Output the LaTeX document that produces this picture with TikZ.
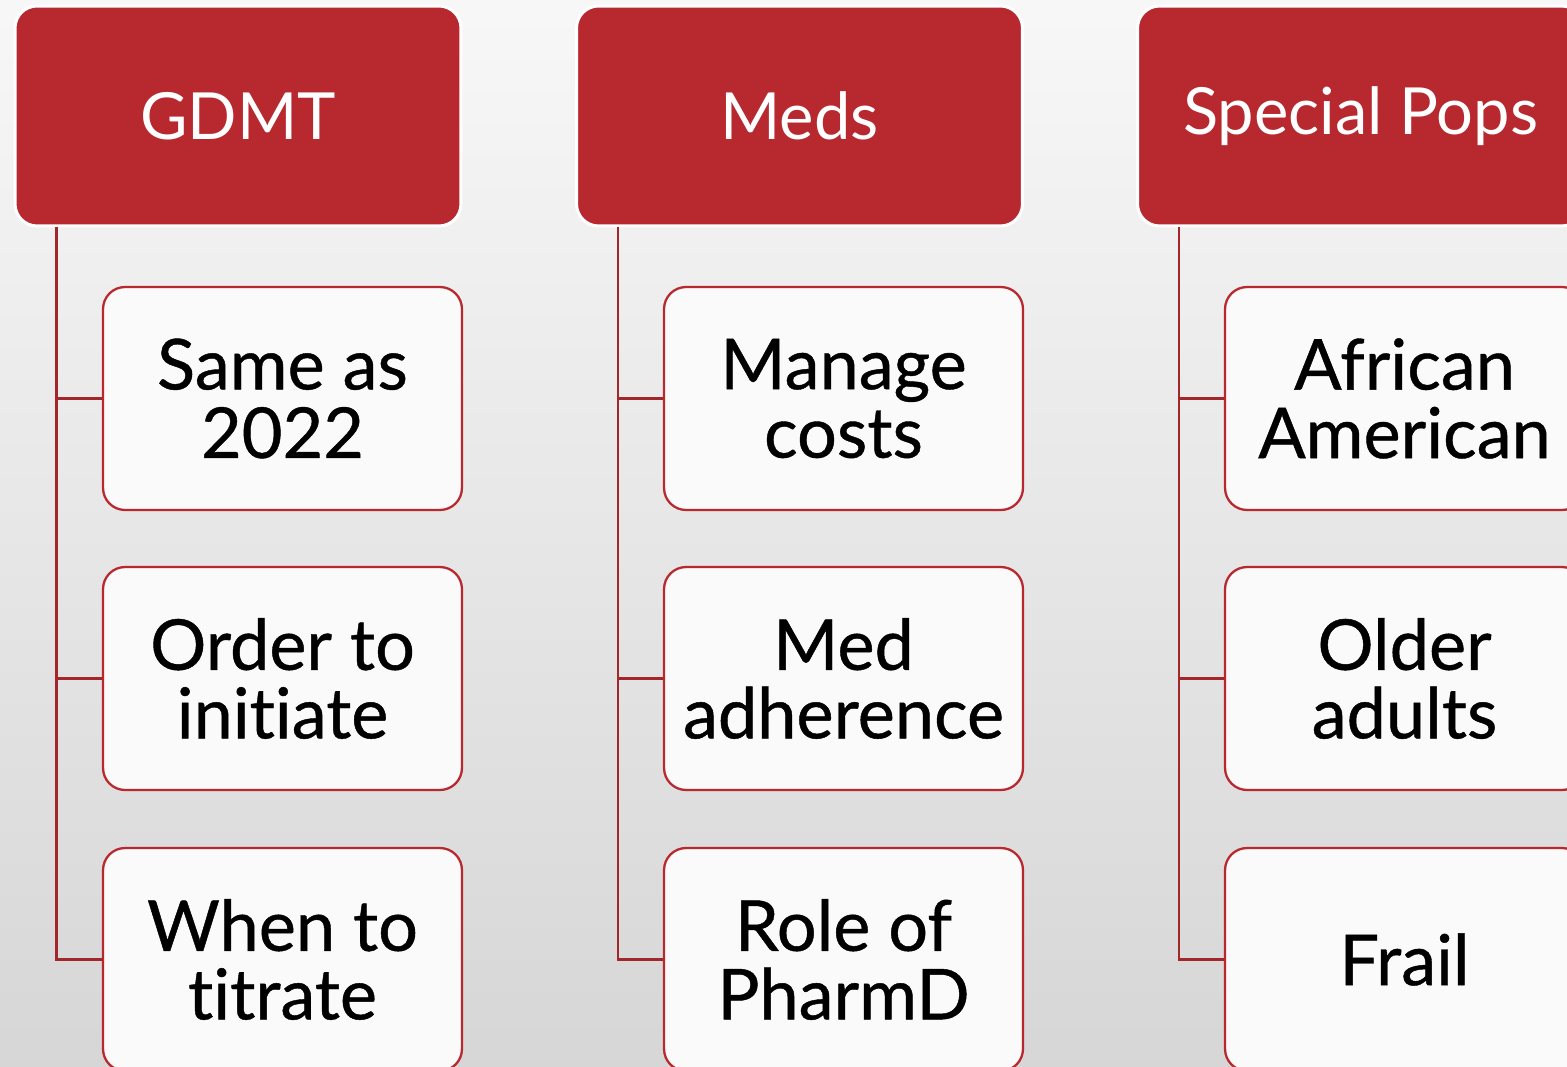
\documentclass[tikz,border=0pt]{standalone}
\usepackage{fontspec}
\setmainfont{Lato}[RawFeature={-liga,-dlig,-clig}]
\newfontfamily\itemfont{Lato}[FakeBold=0.6,RawFeature={-liga,-dlig,-clig}]
\usetikzlibrary{positioning}

\definecolor{hfred}{HTML}{B8292F}
\definecolor{linkred}{HTML}{A3262B}
\definecolor{boxwhite}{HTML}{FAFAFA}

\begin{document}
\begin{tikzpicture}[x=0.02cm,y=-0.02cm,
    head/.style={rectangle,rounded corners=0.44cm,fill=hfred,draw=white,line width=1.7pt,
        minimum width=8.92cm,minimum height=4.4cm,text=white,font=\fontsize{37}{39}\selectfont},
    item/.style={rectangle,rounded corners=0.44cm,fill=boxwhite,draw=hfred,line width=1.3pt,
        minimum width=7.18cm,minimum height=4.46cm,align=center,
        font=\itemfont\fontsize{40}{39}\selectfont},
    link/.style={draw=linkred,line width=1.3pt}]
    \useasboundingbox (0,0) rectangle (1567,1067);
    \clip (0,0) rectangle (1567,1067);
    \shade[top color=black!3,bottom color=black!16] (0,0) rectangle (1567,1067);

    % column headers
    \foreach \i/\x/\txt in {1/238/GDMT, 2/799.5/Meds, 3/1360.5/Special Pops}
        \node[head] (h\i) at (\x,116) {\txt};

    % topics under each header
    \node[item] (c11) at (282.5,398.5) {Same as\\2022};
    \node[item] (c12) at (282.5,678.5) {Order to\\initiate};
    \node[item] (c13) at (282.5,959.5) {When to\\titrate};

    \node[item] (c21) at (843.5,398.5) {Manage\\costs};
    \node[item] (c22) at (843.5,678.5) {Med\\adherence};
    \node[item] (c23) at (843.5,959.5) {Role of\\PharmD};

    \node[item] (c31) at (1404.5,398.5) {African\\American};
    \node[item] (c32) at (1404.5,678.5) {Older\\adults};
    \node[item] (c33) at (1404.5,959.5) {Frail};

    \foreach \i in {1,2,3}
        \foreach \j in {1,2,3}
            \draw[link] ([xshift=0.86cm]h\i.south west) |- (c\i\j.west);
\end{tikzpicture}
\end{document}
